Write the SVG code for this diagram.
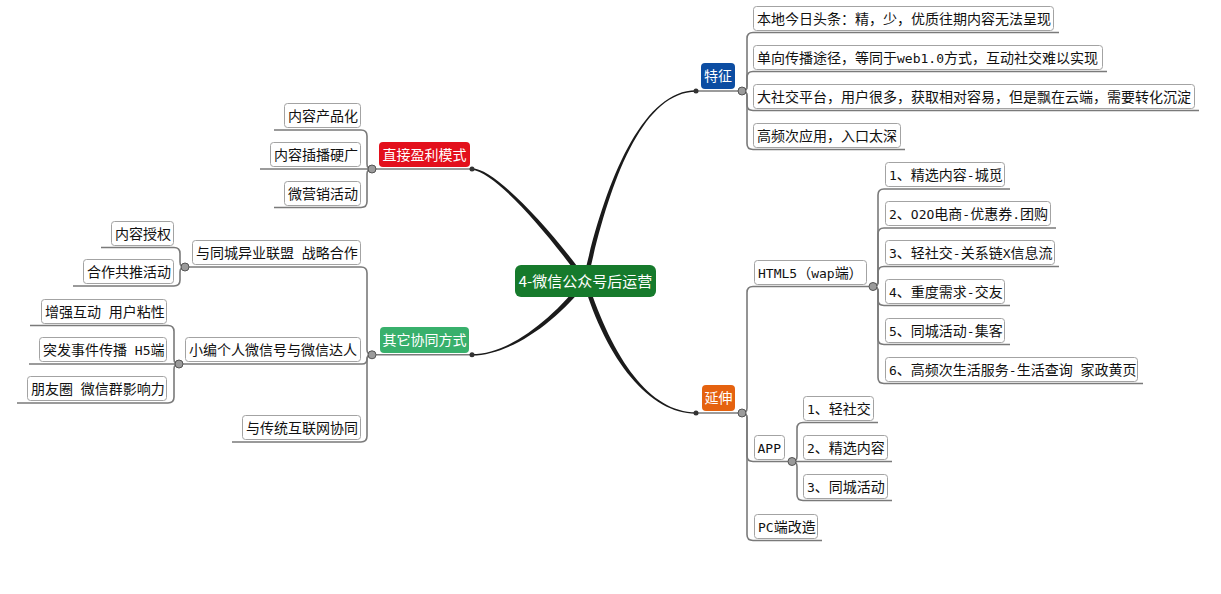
<svg xmlns="http://www.w3.org/2000/svg" width="1221" height="594" viewBox="0 0 1221 594">
<style>
text{font-family:"Noto Sans CJK SC","Noto Sans",sans-serif;font-size:14px;fill:#111}
.m{font-family:"DejaVu Sans Mono","Liberation Mono",monospace;font-size:13px}
.box{fill:#fff;stroke:#a3a3a3;stroke-width:1}
.ln{fill:none;stroke:#7a7a7a;stroke-width:1.6}
.knob{fill:#9b9b9b;stroke:#555;stroke-width:1}
.dot{fill:#333}
.trunk{fill:#1b1b1b}
.w{fill:#fff;text-anchor:middle}
</style>
<rect width="1221" height="594" fill="#fff"/>
<g id="connectors">
  <path class="trunk" d="M583,280.7 C603,189.5 640,90.3 696,90.3 L696,91.7 C640,91.7 607,190.5 587.5,281.3 Z"/>
  <path class="trunk" d="M583,281 C606.5,361 650,413.7 696,413.7 L696,412.3 C650,412.3 613,359.5 587.5,281 Z"/>
  <path class="trunk" d="M587.2,279.6 C551.5,230.5 495,168.3 472,168.3 L472,169.7 C495,171.5 548.5,233.5 583,282.4 Z"/>
  <path class="trunk" d="M583.3,279.8 C552.5,318.5 510,354.1 472,354.1 L472,355.5 C510,355.5 557.5,321.5 586.7,282.2 Z"/>
  <path class="ln" d="M696,91 H742"/>
  <path class="ln" d="M696,413 H742"/>
  <path class="ln" d="M372,169 H472"/>
  <path class="ln" d="M372,354.8 H472"/>
  <path class="ln" d="M742,91 Q747,91 747,86 V38.5 Q747,32.5 753,32.5 H1059"/>
  <path class="ln" d="M742,91 Q747,91 747,86 V77.5 Q747,71.5 753,71.5 H1107"/>
  <path class="ln" d="M742,91 Q747,91 747,96 V104.5 Q747,110.5 753,110.5 H1199"/>
  <path class="ln" d="M742,91 Q747,91 747,96 V143.5 Q747,149.5 753,149.5 H905"/>
  <path class="ln" d="M742,413 Q747,413 747,408 V292.5 Q747,286.5 753,286.5 H873"/>
  <path class="ln" d="M742,413 Q747,413 747,418 V455.5 Q747,461.5 753,461.5 H792"/>
  <path class="ln" d="M742,413 Q747,413 747,418 V534.5 Q747,540.5 753,540.5 H822"/>
  <path class="ln" d="M873,286.5 Q878,286.5 878,281.5 V195 Q878,189 884,189 H1010"/>
  <path class="ln" d="M873,286.5 Q878,286.5 878,281.5 V234 Q878,228 884,228 H1056"/>
  <path class="ln" d="M873,286.5 Q878,286.5 878,281.5 V272.5 Q878,266.5 884,266.5 H1059"/>
  <path class="ln" d="M873,286.5 Q878,286.5 878,291.5 V299.5 Q878,305.5 884,305.5 H1010"/>
  <path class="ln" d="M873,286.5 Q878,286.5 878,291.5 V338.5 Q878,344.5 884,344.5 H1010"/>
  <path class="ln" d="M873,286.5 Q878,286.5 878,291.5 V377.5 Q878,383.5 884,383.5 H1143"/>
  <path class="ln" d="M792,461.5 Q797,461.5 797,456.5 V428.5 Q797,422.5 803,422.5 H878"/>
  <path class="ln" d="M792,461.5 H892"/>
  <path class="ln" d="M792,461.5 Q797,461.5 797,466.5 V494.5 Q797,500.5 803,500.5 H892"/>
  <path class="ln" d="M372,169 Q367,169 367,164 V136 Q367,130 361,130 H274"/>
  <path class="ln" d="M372,169 H260"/>
  <path class="ln" d="M372,169 Q367,169 367,174 V201.5 Q367,207.5 361,207.5 H274"/>
  <path class="ln" d="M372,354.8 Q367,354.8 367,349.8 V273 Q367,267 361,267 H185"/>
  <path class="ln" d="M372,354.8 Q367,354.8 367,359 Q367,364 362,364 H179"/>
  <path class="ln" d="M372,354.8 Q367,354.8 367,359.8 V436 Q367,442 361,442 H232"/>
  <path class="ln" d="M185,267 Q180,267 180,262 V253.5 Q180,247.5 174,247.5 H101"/>
  <path class="ln" d="M185,267 Q180,267 180,272 V280 Q180,286 174,286 H73"/>
  <path class="ln" d="M179,364 Q174,364 174,359 V331.5 Q174,325.5 168,325.5 H30"/>
  <path class="ln" d="M179,364 H29"/>
  <path class="ln" d="M179,364 Q174,364 174,369 V397 Q174,403 168,403 H17"/>
  <circle class="dot" cx="696" cy="91" r="2.5"/>
  <circle class="dot" cx="696" cy="413" r="2.5"/>
  <circle class="dot" cx="472" cy="169" r="2.5"/>
  <circle class="dot" cx="472" cy="354.8" r="2.5"/>
  <circle class="knob" cx="742" cy="91" r="4"/>
  <circle class="knob" cx="742" cy="413" r="4"/>
  <circle class="knob" cx="873" cy="286.5" r="4"/>
  <circle class="knob" cx="792" cy="461.5" r="4"/>
  <circle class="knob" cx="372" cy="169" r="4"/>
  <circle class="knob" cx="372" cy="354.8" r="4"/>
  <circle class="knob" cx="185" cy="267" r="4"/>
  <circle class="knob" cx="179" cy="364" r="4"/>
</g>
<g id="root">
  <rect x="515" y="265" width="141" height="32" rx="6" fill="#167a2c"/>
  <text class="w" x="585.5" y="287" style="font-size:15px">4-微信公众号后运营</text>
</g>
<g id="n-tezheng">
  <rect x="701" y="63" width="34" height="26" rx="4" fill="#0c4da2"/>
  <text class="w" x="718" y="81">特征</text>
</g>
<g id="n-yanshen">
  <rect x="702" y="385" width="33" height="26" rx="4" fill="#e5620f"/>
  <text class="w" x="718.5" y="403">延伸</text>
</g>
<g id="n-zhijie">
  <rect x="379" y="142" width="91" height="25" rx="4" fill="#e3101c"/>
  <text class="w" x="424.5" y="160">直接盈利模式</text>
</g>
<g id="n-qita">
  <rect x="380" y="327" width="89" height="26" rx="4" fill="#38b06c"/>
  <text class="w" x="424.5" y="345">其它协同方式</text>
</g>
<g id="n-t1"><rect class="box" x="753.5" y="6.5" width="300" height="24" rx="3"/><text x="757" y="23.5">本地今日头条：精，少，优质往期内容无法呈现</text></g>
<g id="n-t2"><rect class="box" x="753.5" y="45.5" width="349" height="24" rx="3"/><text x="757" y="62.5">单向传播途径，等同于<tspan class="m">web1.0</tspan>方式，互动社交难以实现</text></g>
<g id="n-t3"><rect class="box" x="753.5" y="84.5" width="441" height="24" rx="3"/><text x="757" y="101.5">大社交平台，用户很多，获取相对容易，但是飘在云端，需要转化沉淀</text></g>
<g id="n-t4"><rect class="box" x="753.5" y="123.5" width="147" height="24" rx="3"/><text x="757" y="140.5">高频次应用，入口太深</text></g>
<g id="n-html5"><rect class="box" x="754.5" y="260.5" width="112" height="24" rx="3"/><text x="758" y="277.5"><tspan class="m">HTML5</tspan>（<tspan class="m">wap</tspan>端）</text></g>
<g id="n-app"><rect class="box" x="754.5" y="435.5" width="30" height="24" rx="3"/><text x="757.5" y="452.5"><tspan class="m">APP</tspan></text></g>
<g id="n-pc"><rect class="box" x="754.5" y="514.5" width="63" height="24" rx="3"/><text x="758" y="531.5"><tspan class="m">PC</tspan>端改造</text></g>
<g id="n-h1"><rect class="box" x="885.5" y="162.5" width="119" height="24" rx="3"/><text x="889" y="179.5"><tspan class="m">1</tspan>、精选内容<tspan class="m">-</tspan>城觅</text></g>
<g id="n-h2"><rect class="box" x="885.5" y="201.5" width="165" height="24" rx="3"/><text x="889" y="218.5"><tspan class="m">2</tspan>、<tspan class="m">O2O</tspan>电商<tspan class="m">-</tspan>优惠券<tspan class="m">.</tspan>团购</text></g>
<g id="n-h3"><rect class="box" x="885.5" y="240.5" width="169" height="24" rx="3"/><text x="889" y="257.5"><tspan class="m">3</tspan>、轻社交<tspan class="m">-</tspan>关系链<tspan class="m">X</tspan>信息流</text></g>
<g id="n-h4"><rect class="box" x="885.5" y="279.5" width="119" height="24" rx="3"/><text x="889" y="296.5"><tspan class="m">4</tspan>、重度需求<tspan class="m">-</tspan>交友</text></g>
<g id="n-h5"><rect class="box" x="885.5" y="318.5" width="119" height="24" rx="3"/><text x="889" y="335.5"><tspan class="m">5</tspan>、同城活动<tspan class="m">-</tspan>集客</text></g>
<g id="n-h6"><rect class="box" x="885.5" y="357.5" width="252" height="24" rx="3"/><text x="889" y="374.5"><tspan class="m">6</tspan>、高频次生活服务<tspan class="m">-</tspan>生活查询<tspan class="m"> </tspan>家政黄页</text></g>
<g id="n-a1"><rect class="box" x="803.5" y="396.5" width="70" height="24" rx="3"/><text x="807" y="413.5"><tspan class="m">1</tspan>、轻社交</text></g>
<g id="n-a2"><rect class="box" x="803.5" y="435.5" width="84" height="24" rx="3"/><text x="807" y="452.5"><tspan class="m">2</tspan>、精选内容</text></g>
<g id="n-a3"><rect class="box" x="803.5" y="474.5" width="84" height="24" rx="3"/><text x="807" y="491.5"><tspan class="m">3</tspan>、同城活动</text></g>
<g id="n-z1"><rect class="box" x="284.5" y="103.5" width="76" height="24" rx="3"/><text x="288" y="120.5">内容产品化</text></g>
<g id="n-z2"><rect class="box" x="270.5" y="142.5" width="90" height="24" rx="3"/><text x="274" y="159.5">内容插播硬广</text></g>
<g id="n-z3"><rect class="box" x="284.5" y="181.5" width="76" height="24" rx="3"/><text x="288" y="198.5">微营销活动</text></g>
<g id="n-q1"><rect class="box" x="192.5" y="240.5" width="168" height="24" rx="3"/><text x="196" y="257.5">与同城异业联盟<tspan class="m"> </tspan>战略合作</text></g>
<g id="n-q2"><rect class="box" x="185.5" y="337.5" width="175" height="24" rx="3"/><text x="189" y="354.5">小编个人微信号与微信达人</text></g>
<g id="n-q3"><rect class="box" x="242.5" y="415.5" width="118" height="24" rx="3"/><text x="246" y="432.5">与传统互联网协同</text></g>
<g id="n-q11"><rect class="box" x="111.5" y="221.5" width="62" height="24" rx="3"/><text x="115" y="238.5">内容授权</text></g>
<g id="n-q12"><rect class="box" x="83.5" y="259.5" width="90" height="24" rx="3"/><text x="87" y="276.5">合作共推活动</text></g>
<g id="n-q21"><rect class="box" x="41.5" y="299.5" width="125" height="24" rx="3"/><text x="45" y="316.5">增强互动<tspan class="m"> </tspan>用户粘性</text></g>
<g id="n-q22"><rect class="box" x="39.5" y="337.5" width="127" height="24" rx="3"/><text x="43" y="354.5">突发事件传播<tspan class="m"> H5</tspan>端</text></g>
<g id="n-q23"><rect class="box" x="27.5" y="376.5" width="139" height="24" rx="3"/><text x="31" y="393.5">朋友圈<tspan class="m"> </tspan>微信群影响力</text></g>
</svg>
